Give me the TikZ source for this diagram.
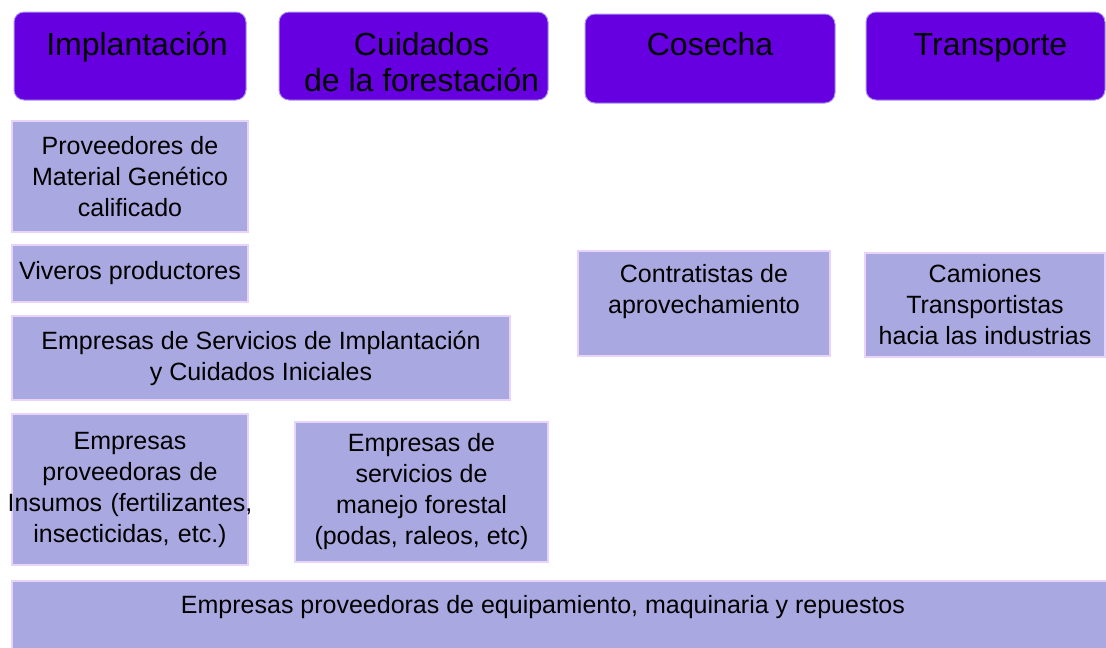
\documentclass[tikz,border=0pt]{standalone}
\usepackage{fontspec}
\setmainfont{Liberation Sans}
\definecolor{headfill}{RGB}{102,0,224}
\definecolor{headedge}{RGB}{170,150,240}
\definecolor{cellfill}{RGB}{170,168,224}
\definecolor{celledge}{RGB}{232,212,250}
\begin{document}
\begin{tikzpicture}[x=1pt,y=-1pt]
	\tikzset{head/.style={fill=headfill, draw=headedge, line width=1pt, rounded corners=10pt, inner sep=0pt},
		headtxt/.style={anchor=north, inner sep=0pt, align=center, font=\fontsize{32}{36}\selectfont},
		cell/.style={fill=cellfill, draw=celledge, line width=1.5pt, inner sep=0pt, align=center, font=\fontsize{25}{31}\selectfont},
		celltxt/.style={anchor=north, inner sep=0pt, align=center, font=\fontsize{25}{31}\selectfont}}
	\useasboundingbox (0,0) rectangle (1106,648);
	% cabeceras
	\node [head, minimum width=232pt, minimum height=88pt, label={[headtxt, xshift=7pt, yshift=-20pt]north:Implantación}] (impl) at (130,56) {};
	\node [head, minimum width=269pt, minimum height=88pt, label={[headtxt, xshift=8pt, yshift=-21pt]north:Cuidados\\de la forestación}] (cuid) at (413.5,56) {};
	\node [head, minimum width=250pt, minimum height=89pt, label={[headtxt, yshift=-19pt]north:Cosecha}] (cose) at (710,58.5) {};
	\node [head, minimum width=239pt, minimum height=88pt, label={[headtxt, xshift=5pt, yshift=-22pt]north:Transporte}] (trans) at (985.5,56) {};
	% actores
	\node [cell, minimum width=236pt, minimum height=111pt] (prov) at (130,176.5) {Proveedores de\\Material Genético\\calificado};
	\node [cell, minimum width=236pt, minimum height=57pt] (viv) at (130,273.5) {Viveros productores};
	\node [cell, minimum width=498pt, minimum height=84pt] (serv) at (261,358) {Empresas de Servicios de Implantación\\y Cuidados Iniciales};
	\node [cell, text width=236pt, minimum height=151pt] (ins) at (130,489.5) {Empresas\\proveedoras de\\\makebox[236pt]{Insumos (fertilizantes,}\\insecticidas, etc.)};
	\node [cell, minimum width=253pt, minimum height=140pt] (man) at (421.5,492) {Empresas de\\servicios de\\manejo forestal\\(podas, raleos, etc)};
	\node [cell, minimum width=252pt, minimum height=105pt, label={[celltxt, yshift=-14pt]north:Contratistas de\\aprovechamiento}] (cont) at (704,303.5) {};
	\node [cell, minimum width=240pt, minimum height=104pt] (cam) at (985,305) {Camiones\\Transportistas\\hacia las industrias};
	\node [cell, minimum width=1100pt, minimum height=70pt, label={[celltxt, yshift=-15pt]north:{\hspace*{-38pt}Empresas proveedoras de equipamiento, maquinaria y repuestos}}] (equi) at (562,616) {};
\end{tikzpicture}
\end{document}
